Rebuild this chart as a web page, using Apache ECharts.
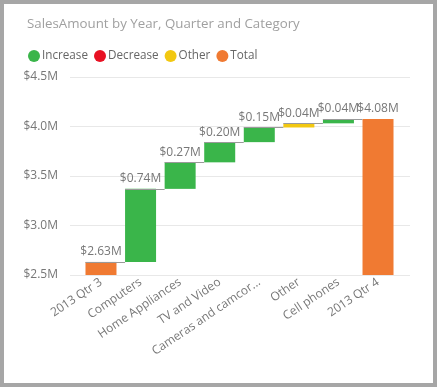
<!DOCTYPE html>
<html>
<head>
<meta charset="utf-8">
<script src="https://cdn.jsdelivr.net/npm/echarts@6/dist/echarts.min.js"></script>
<style>
html,body{margin:0;padding:0;background:#fff;}
#wrap{position:absolute;left:0;top:0;width:437px;height:387px;box-sizing:border-box;border:4px solid #a6a6a6;background:#fff;}
#main{width:429px;height:379px;}
</style>
</head>
<body>
<div id="wrap"><div id="main"></div></div>
<script>
// Data
const categories = ['2013 Qtr 3', 'Computers', 'Home Appliances', 'TV and Video', 'Cameras and camcorders', 'Other', 'Cell phones', '2013 Qtr 4'];
const deltas = [2.632, 0.738, 0.268, 0.204, 0.148, 0.042, 0.044, 4.076];
const kinds = ['Total', 'Increase', 'Increase', 'Increase', 'Increase', 'Other', 'Increase', 'Total'];
const legendNames = ['Increase', 'Decrease', 'Other', 'Total'];
const yTicks = [2.5, 3.0, 3.5, 4.0, 4.5];

const colors = {Increase: '#3AB54A', Decrease: '#E81123', Other: '#F2C811', Total: '#F07A32'};
const font = '"Segoe UI", "Open Sans", "Noto Sans", sans-serif';

// cumulative
const starts = [], ends = [];
let run = 0;
deltas.forEach((d, i) => {
  if (kinds[i] === 'Total') { starts.push(0); ends.push(d); run = d; }
  else { starts.push(run); run += d; ends.push(run); }
});

const chart = echarts.init(document.getElementById('main'), null, {renderer: 'canvas'});

const fmt = v => '$' + Number(v).toFixed(2) + 'M';

const series = [{
  name: 'base', type: 'bar', stack: 'w', xAxisIndex: 1, yAxisIndex: 1,
  barWidth: 31, silent: true,
  itemStyle: {color: 'transparent'},
  data: starts.map((s, i) => kinds[i] === 'Total' ? 0 : s)
}];
legendNames.forEach(n => {
  series.push({
    name: n, type: 'bar', stack: 'w', xAxisIndex: 1, yAxisIndex: 1,
    barWidth: 31,
    itemStyle: {color: colors[n]},
    label: {show: true, position: 'top', distance: 4, color: '#777', fontSize: 12, fontFamily: font,
      formatter: p => fmt(p.value)},
    data: deltas.map((d, i) => kinds[i] === n ? d : '-')
  });
});
// connectors
series.push({
  type: 'custom', xAxisIndex: 1, yAxisIndex: 1, silent: true, z: 5,
  data: ends.slice(0, ends.length - 1).map((e, i) => [i, e]),
  renderItem: (params, api) => {
    const i = api.value(0), lvl = api.value(1);
    const p0 = api.coord([i, lvl]);
    const p1 = api.coord([i + 1, lvl]);
    const half = 15.5;
    return {type: 'line', shape: {x1: p0[0] - half, y1: Math.round(p0[1]) + 0.5, x2: p1[0] - half, y2: Math.round(p0[1]) + 0.5},
      style: {stroke: '#9a9a9a', lineWidth: 1}};
  }
});

chart.setOption({
  animation: false,
  color: legendNames.map(n => colors[n]),
  title: {text: 'SalesAmount by Year, Quarter and Category', left: 18, top: 9,
    textStyle: {color: '#a0a0a0', fontSize: 13.3, fontWeight: 'normal', fontFamily: font}},
  legend: {data: legendNames, left: 19, top: 41, icon: 'circle', itemWidth: 12, itemHeight: 12, itemGap: 6,
    textStyle: {color: '#666', fontSize: 11.7, fontFamily: font, padding: [0, 0, 0, -3]}},
  grid: [
    {left: 66, right: 23, top: 73, bottom: 108},
    {left: 77.2, right: 35.2, top: 73, bottom: 108}
  ],
  xAxis: [
    {type: 'value', gridIndex: 0, show: false},
    {type: 'category', gridIndex: 1, data: categories,
      axisLine: {show: false}, axisTick: {show: false},
      axisLabel: {rotate: 34, color: '#777', fontSize: 12, fontFamily: font, margin: 6, interval: 0,
        width: 136, overflow: 'truncate', ellipsis: '...'}}
  ],
  yAxis: [
    {type: 'value', gridIndex: 0, min: yTicks[0], max: yTicks[yTicks.length - 1], interval: 0.5,
      axisLine: {show: false}, axisTick: {show: false},
      axisLabel: {color: '#777', fontSize: 12, fontFamily: font, margin: 12, formatter: v => '$' + v.toFixed(1) + 'M'},
      splitLine: {lineStyle: {color: '#e8e8e8', width: 1}}},
    {type: 'value', gridIndex: 1, min: yTicks[0], max: yTicks[yTicks.length - 1], interval: 0.5, show: false,
      splitLine: {show: false}}
  ],
  series: series
});
</script>
</body>
</html>
